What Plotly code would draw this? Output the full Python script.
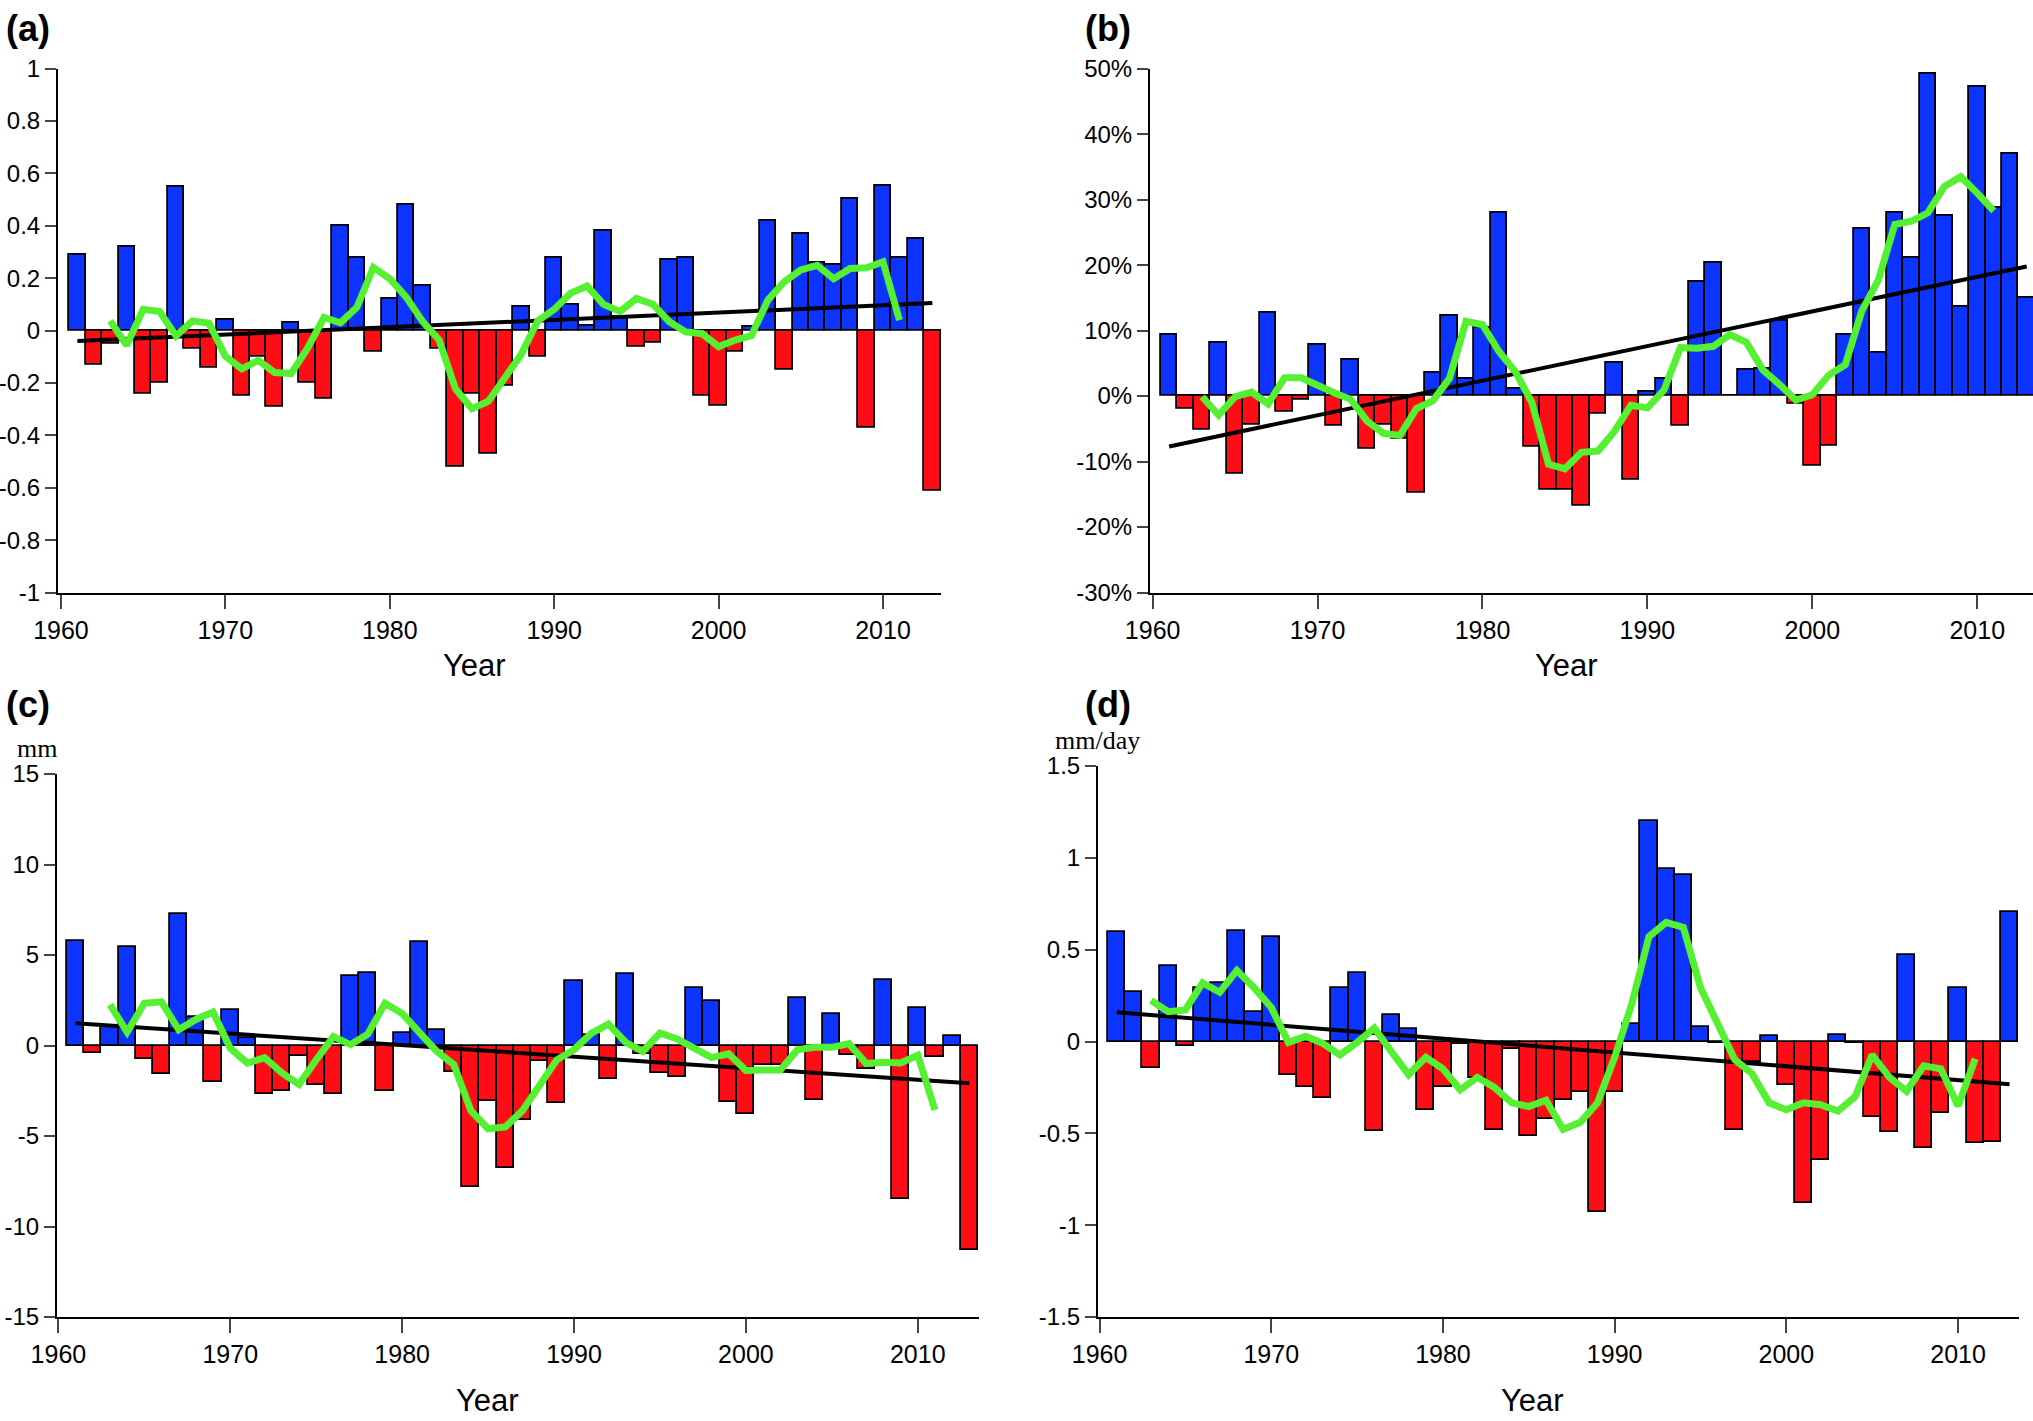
import plotly.graph_objects as go

# ---------------- data ----------------
years = list(range(1961, 2014))
ma_years = list(range(1963, 2012))
trend_years = [1961, 2013]

a_vals = [0.29, -0.13, -0.05, 0.32, -0.24, -0.20, 0.55, -0.07, -0.14, 0.04,
          -0.25, -0.10, -0.29, 0.03, -0.20, -0.26, 0.40, 0.28, -0.08, 0.12,
          0.48, 0.17, -0.07, -0.52, -0.24, -0.47, -0.21, 0.09, -0.10, 0.28,
          0.10, 0.02, 0.38, 0.055, -0.06, -0.045, 0.27, 0.28, -0.25, -0.285,
          -0.08, 0.016, 0.42, -0.15, 0.37, 0.26, 0.25, 0.505, -0.37, 0.555,
          0.28, 0.35, -0.61]
a_ma = [0.037, -0.056, 0.081, 0.073, -0.02, 0.037, 0.028, -0.098,
        -0.146, -0.114, -0.16, -0.164, -0.067, 0.05, 0.03, 0.089, 0.241, 0.198,
        0.128, 0.034, -0.036, -0.223, -0.298, -0.27, -0.18, -0.09, 0.037, 0.081,
        0.143, 0.17, 0.10, 0.073, 0.123, 0.101, 0.034, -0.005, -0.012, -0.062,
        -0.036, -0.019, 0.117, 0.187, 0.232, 0.249, 0.198, 0.237, 0.24, 0.263,
        0.04]
a_trend = [-0.04, 0.105]

b_vals = [9.3, -1.9, -5.2, 8.1, -11.8, -4.3, 12.8, -2.4, -0.6, 7.9,
          -4.5, 5.6, -8.0, -4.4, -6.5, -14.8, 3.5, 12.3, 2.6, 10.5,
          28.0, 1.1, -7.7, -14.3, -14.3, -16.7, -2.7, 5.1, -12.8, 0.7,
          2.6, -4.6, 17.4, 20.3, 0.1, 4.0, 4.2, 11.5, -1.2, -10.7,
          -7.6, 9.3, 25.5, 6.7, 28.0, 21.2, 49.3, 27.6, 13.7, 47.3,
          28.7, 37.0, 15.0]
b_ma = [-0.1, -2.9, -0.1, 0.6, -1.2, 2.8, 2.8, 1.6,
        0.5, -0.5, -3.8, -5.7, -6.0, -1.9, -0.7, 2.7, 11.4, 10.9,
        6.8, 3.7, -1.0, -10.4, -11.1, -8.6, -8.4, -5.4, -1.4, -1.8,
        0.9, 7.4, 7.3, 7.6, 9.4, 8.2, 4.0, 1.8, -0.6, 0.2,
        3.2, 4.8, 13.0, 17.7, 26.2, 26.7, 28.0, 32.0, 33.5, 31.0,
        28.3]
b_trend = [-7.7, 19.8]

c_vals = [5.8, -0.44, 1.1, 5.46, -0.74, -1.6, 7.28, 1.56, -2.0, 1.95,
          0.4, -2.7, -2.54, -0.56, -2.2, -2.7, 3.85, 4.0, -2.54, 0.67,
          5.72, 0.85, -1.44, -7.8, -3.08, -6.77, -4.1, -0.87, -3.18, 3.59,
          0.59, -1.85, 3.97, -0.49, -1.51, -1.74, 3.2, 2.44, -3.1, -3.77,
          -1.05, -1.1, 2.64, -3.03, 1.74, -0.54, -1.28, 3.64, -8.49, 2.08,
          -0.62, 0.54, -11.3]
c_ma = [2.26, 0.74, 2.33, 2.41, 0.87, 1.44, 1.85, -0.15,
        -0.97, -0.67, -1.51, -2.15, -0.79, 0.49, 0.05, 0.62, 2.33, 1.77,
        0.72, -0.31, -1.05, -3.6, -4.6, -4.5, -3.6, -2.2, -0.79, -0.23,
        0.67, 1.18, 0.18, -0.33, 0.69, 0.36, -0.2, -0.67, -0.46, -1.38,
        -1.36, -1.36, -0.23, -0.1, -0.1, 0.1, -1.0, -0.92, -0.97, -0.54,
        -3.56]
c_trend = [1.23, -2.08]

d_vals = [0.594, 0.268, -0.142, 0.412, -0.025, 0.29, 0.316, 0.60, 0.16, 0.57,
          -0.18, -0.245, -0.31, 0.293, 0.372, -0.488, 0.142, 0.066, -0.372, -0.248,
          -0.015, -0.2, -0.48, -0.043, -0.516, -0.42, -0.32, -0.273, -0.926, -0.273,
          0.096, 1.2, 0.94, 0.908, 0.081, -0.01, -0.48, -0.11, 0.03, -0.238,
          -0.88, -0.643, 0.038, -0.01, -0.41, -0.49, 0.473, -0.58, -0.387, 0.293,
          -0.554, -0.549, 0.706]
d_ma = [0.223, 0.162, 0.172, 0.319, 0.268, 0.387, 0.293, 0.185,
        -0.005, 0.028, -0.01, -0.073, -0.005, 0.073, -0.056, -0.18, -0.086, -0.149,
        -0.263, -0.195, -0.25, -0.334, -0.354, -0.32, -0.478, -0.44, -0.334, -0.086,
        0.205, 0.572, 0.648, 0.622, 0.293, 0.091, -0.099, -0.175, -0.334, -0.372,
        -0.334, -0.344, -0.379, -0.301, -0.073, -0.195, -0.271, -0.132, -0.149, -0.352,
        -0.094]
d_trend = [0.159, -0.233]

x_tickvals = [1960, 1970, 1980, 1990, 2000, 2010]
a_ticks = [-1, -0.8, -0.6, -0.4, -0.2, 0, 0.2, 0.4, 0.6, 0.8, 1]
a_labels = ["-1", "-0.8", "-0.6", "-0.4", "-0.2", "0", "0.2", "0.4", "0.6", "0.8", "1"]
b_ticks = [-30, -20, -10, 0, 10, 20, 30, 40, 50]
b_labels = ["-30%", "-20%", "-10%", "0%", "10%", "20%", "30%", "40%", "50%"]
c_ticks = [-15, -10, -5, 0, 5, 10, 15]
c_labels = ["-15", "-10", "-5", "0", "5", "10", "15"]
d_ticks = [-1.5, -1, -0.5, 0, 0.5, 1, 1.5]
d_labels = ["-1.5", "-1", "-0.5", "0", "0.5", "1", "1.5"]

# ---------------- style ----------------
W, H = 2033, 1421
BLUE = "#0D33FF"
RED = "#FF0D17"
GREEN = "#55F032"
FONT = "Liberation Sans, Arial, sans-serif"
SERIF = "Liberation Serif, Times New Roman, serif"

panels = [
    # vals, ma, trend, ticks, labels, yrange, x pixel domain, y pixel domain(top,bottom), xrange
    (a_vals, a_ma, a_trend, a_ticks, a_labels, [-1, 1], (58, 941.4), (68.7, 592.5), [1959.82, 2013.55]),
    (b_vals, b_ma, b_trend, b_ticks, b_labels, [-30, 50], (1150, 2033), (68.7, 592.5), [1959.84, 2013.38]),
    (c_vals, c_ma, c_trend, c_ticks, c_labels, [-15, 15], (57, 978.8), (774, 1317), [1959.92, 2013.55]),
    (d_vals, d_ma, d_trend, d_ticks, d_labels, [-1.5, 1.5], (1098, 2019), (766, 1317), [1959.91, 2013.55]),
]

fig = go.Figure()
layout = dict(
    width=W, height=H,
    margin=dict(l=0, r=0, t=0, b=0, pad=0, autoexpand=False),
    paper_bgcolor="white", plot_bgcolor="white",
    showlegend=False, bargap=0,
    font=dict(family=FONT, size=24, color="black"),
)

for i, (vals, ma, trend, ticks, labels, yr, xd, yd, xr) in enumerate(panels):
    n = "" if i == 0 else str(i + 1)
    xa, ya = "x" + n, "y" + n
    colors = [BLUE if v >= 0 else RED for v in vals]
    fig.add_trace(go.Bar(x=years, y=vals, width=1,
                         marker=dict(color=colors, line=dict(color="black", width=1.8)),
                         xaxis=xa, yaxis=ya))
    fig.add_trace(go.Scatter(x=trend_years, y=trend, mode="lines",
                             line=dict(color="black", width=4), xaxis=xa, yaxis=ya))
    fig.add_trace(go.Scatter(x=ma_years, y=ma, mode="lines",
                             line=dict(color=GREEN, width=7), xaxis=xa, yaxis=ya))
    layout["xaxis" + n] = dict(
        domain=[xd[0] / W, xd[1] / W], range=xr, anchor=ya, automargin=False,
        tickmode="array", tickvals=x_tickvals, ticks="outside", ticklen=14, tickwidth=2,
        showline=True, linewidth=2, linecolor="black", showgrid=False, zeroline=False,
        tickfont=dict(size=25, family=FONT),
    )
    layout["yaxis" + n] = dict(
        domain=[1 - yd[1] / H, 1 - yd[0] / H], range=yr, anchor=xa, automargin=False,
        tickmode="array", tickvals=ticks, ticktext=labels, ticks="outside", ticklen=11, tickwidth=2,
        showline=True, linewidth=2, linecolor="black", showgrid=False, zeroline=False,
        tickfont=dict(size=24, family=FONT),
    )

fig.update_layout(**layout)

ann = []
for txt, x, y in [("(a)", 4, 28.5), ("(b)", 1083, 28.5), ("(c)", 4, 704), ("(d)", 1083, 704)]:
    ann.append(dict(text="<b>" + txt + "</b>", x=x / W, y=1 - y / H, xref="paper", yref="paper",
                    xanchor="left", yanchor="middle", showarrow=False,
                    font=dict(size=36, family=FONT, color="black")))
for x, y in [(474.5, 665), (1566, 665), (487.5, 1400), (1532.6, 1400)]:
    ann.append(dict(text="Year", x=x / W, y=1 - y / H, xref="paper", yref="paper",
                    xanchor="center", yanchor="middle", showarrow=False,
                    font=dict(size=31, family=FONT, color="black")))
ann.append(dict(text="mm", x=15 / W, y=1 - 748 / H, xref="paper", yref="paper",
                xanchor="left", yanchor="middle", showarrow=False,
                font=dict(size=26, family=SERIF, color="black")))
ann.append(dict(text="mm/day", x=1053 / W, y=1 - 740 / H, xref="paper", yref="paper",
                xanchor="left", yanchor="middle", showarrow=False,
                font=dict(size=26, family=SERIF, color="black")))
fig.update_layout(annotations=ann)

fig.write_html("out.html", config={"displayModeBar": False},
               post_script="document.body.style.margin='0';document.body.style.overflow='hidden';")
